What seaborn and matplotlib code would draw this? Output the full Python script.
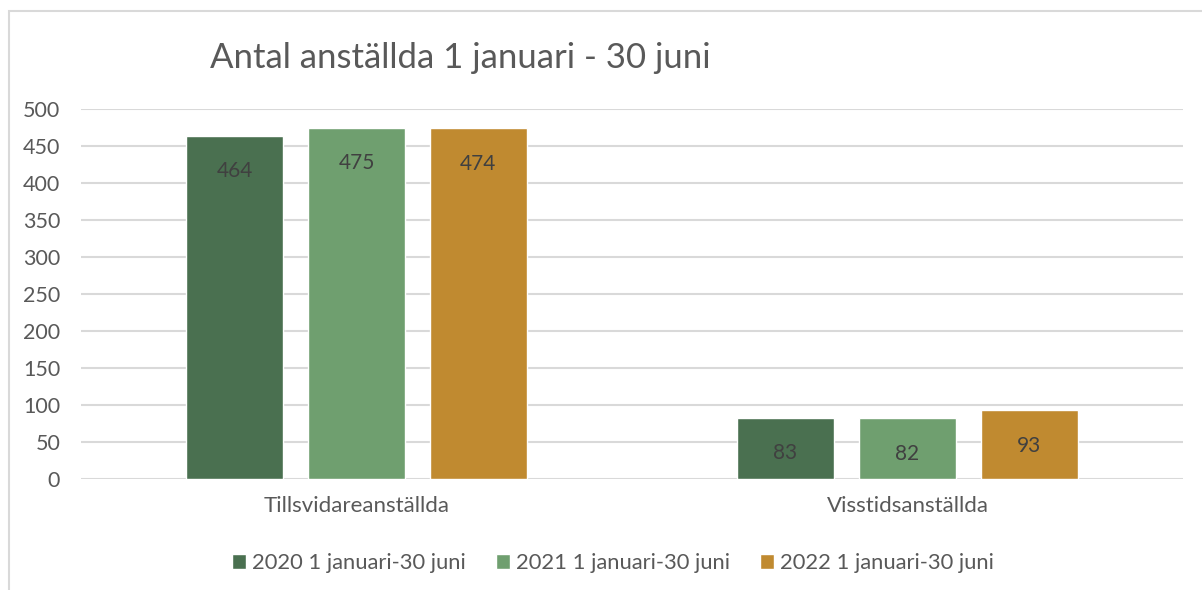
import pandas as pd
import matplotlib
matplotlib.use('Agg')
import matplotlib.pyplot as plt
import seaborn as sns
from matplotlib.patches import Rectangle

# Data
categories = ['Tillsvidareanställda', 'Visstidsanställda']
series = ['2020 1 januari-30 juni', '2021 1 januari-30 juni', '2022 1 januari-30 juni']
values_2020 = [464, 83]
values_2021 = [475, 82]
values_2022 = [474, 93]
colors = ['#4A7050', '#6F9F6F', '#C08A30']

TEXT = '#595959'
GRID = '#D9D9D9'

rows = []
for s, vals in zip(series, [values_2020, values_2021, values_2022]):
    for c, v in zip(categories, vals):
        rows.append({'kategori': c, 'serie': s, 'antal': v})
df = pd.DataFrame(rows)

sns.set_theme(style='white')
plt.rcParams['font.family'] = ['Lato', 'DejaVu Sans']

fig = plt.figure(figsize=(12.02, 5.9), dpi=100)
ax = fig.add_axes([81 / 1202, 111 / 590, 1102 / 1202, 370 / 590])

sns.barplot(data=df, x='kategori', y='antal', hue='serie', order=categories,
            hue_order=series, palette=colors, width=0.664, gap=0.205,
            saturation=1, ax=ax, legend=True)

ax.set_xlim(-0.5, 1.5)
ax.set_ylim(0, 500)
ax.set_yticks(range(0, 501, 50))
ax.yaxis.grid(True, color=GRID, linewidth=1.5)
ax.set_axisbelow(True)
for sp in ax.spines.values():
    sp.set_visible(False)
ax.set_xlabel('')
ax.set_ylabel('')
ax.tick_params(axis='y', length=0, labelsize=15.5, labelcolor=TEXT, pad=15)
ax.tick_params(axis='x', length=0, labelsize=16, labelcolor=TEXT, pad=12)

# Värden inne i staplarna
for p in ax.patches:
    h = p.get_height()
    if h > 0:
        ax.annotate(f"{int(h)}", (p.get_x() + p.get_width() / 2., h),
                    ha='center', va='center', xytext=(0, -25.5),
                    textcoords='offset points', fontsize=15, color='#404040')

leg = ax.legend(loc='center', bbox_to_anchor=((613 - 81) / 1102, -(563 - 479) / 370),
                ncol=3, frameon=False, fontsize=15.8, handlelength=0.65, handleheight=0.65,
                handletextpad=0.27, columnspacing=1.36, labelcolor=TEXT)

fig.text(460 / 1202, 1 - 58 / 590, 'Antal anställda 1 januari - 30 juni',
         ha='center', va='center', fontsize=25, color=TEXT)

# Ram runt diagrammet
fig.add_artist(Rectangle((8.5 / 1202, -0.2), 1.2, 1.2 - 10.5 / 590, transform=fig.transFigure,
                         fill=False, edgecolor=GRID, linewidth=1.5, clip_on=False))

fig.savefig('out.png', dpi=100)
